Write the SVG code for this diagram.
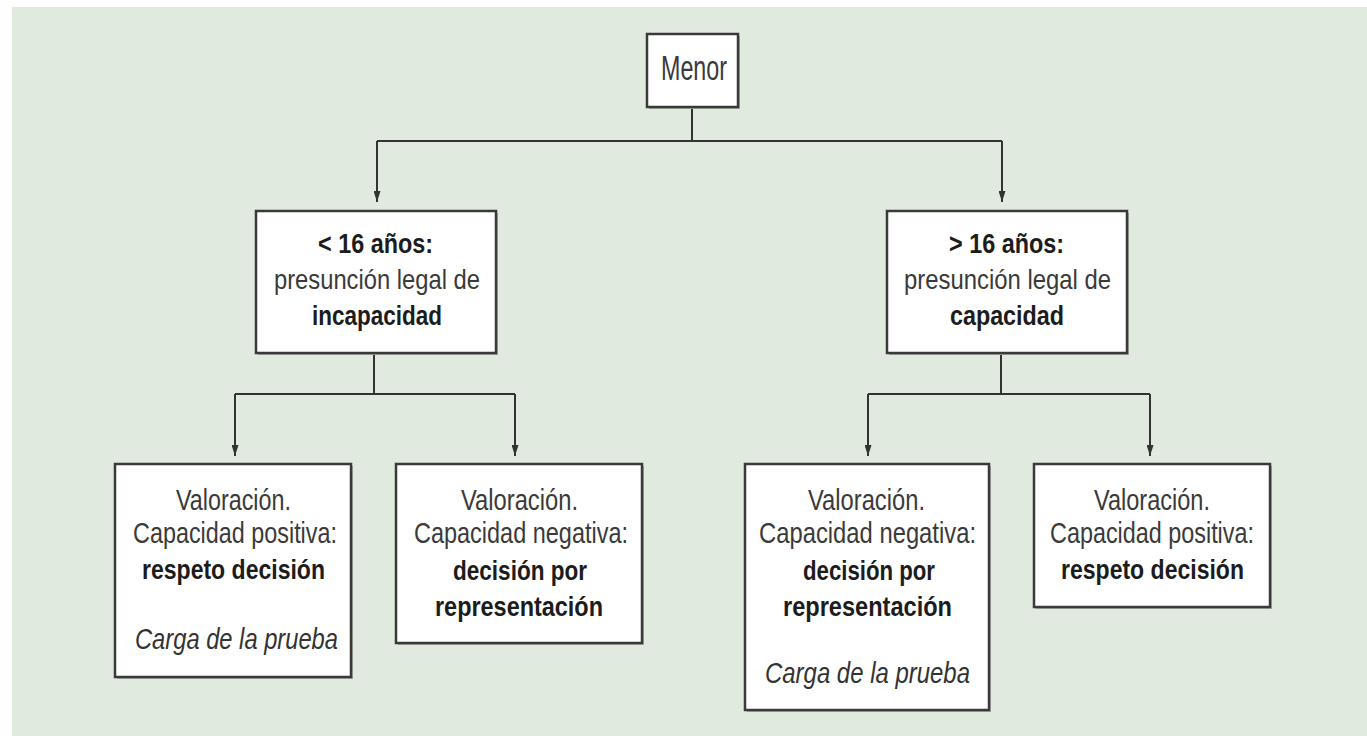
<svg xmlns="http://www.w3.org/2000/svg" width="1367" height="736" viewBox="0 0 1367 736">
  <style>
    .box { fill: #ffffff; stroke: #3a3a3a; stroke-width: 2.5; }
    .shadow { fill: #a8ada6; }
    .link { fill: none; stroke: #333333; stroke-width: 2; }
    .t { font-family: "Liberation Sans", Arial, sans-serif; fill: #3a3a3a; }
    .b { font-family: "Liberation Sans", Arial, sans-serif; font-weight: bold; fill: #1c1c1c; }
    .i { font-family: "Liberation Sans", Arial, sans-serif; font-style: italic; fill: #333333; }
  </style>
  <defs>
    <marker id="ah" markerUnits="userSpaceOnUse" markerWidth="11" markerHeight="7" refX="11" refY="3.5" orient="auto" viewBox="0 0 11 7">
      <path d="M0,0 L11,3.5 L0,7 Z" fill="#333333"/>
    </marker>
  </defs>

  <rect x="0" y="0" width="1367" height="736" fill="#ffffff"/>
  <rect x="12" y="7" width="1355" height="729" fill="#e1eadf"/>

  <g id="connectors">
    <path class="link" d="M692,107 V141"/>
    <path class="link" d="M377,141 H1002"/>
    <path class="link" d="M377,141 V202" marker-end="url(#ah)"/>
    <path class="link" d="M1002,141 V202" marker-end="url(#ah)"/>
    <path class="link" d="M374,353 V394"/>
    <path class="link" d="M235,394 H515"/>
    <path class="link" d="M235,394 V456" marker-end="url(#ah)"/>
    <path class="link" d="M515,394 V456" marker-end="url(#ah)"/>
    <path class="link" d="M1001,353 V394"/>
    <path class="link" d="M868,394 H1150"/>
    <path class="link" d="M868,394 V456" marker-end="url(#ah)"/>
    <path class="link" d="M1150,394 V456" marker-end="url(#ah)"/>
  </g>

  <g id="menor">
    <rect class="shadow" x="649" y="36" width="91" height="73"/>
    <rect class="box" x="647" y="34" width="91" height="73"/>
    <text class="t" x="661" y="80" font-size="35" textLength="66" lengthAdjust="spacingAndGlyphs">Menor</text>
  </g>

  <g id="menos16">
    <rect class="shadow" x="258" y="213" width="240" height="142"/>
    <rect class="box" x="256" y="211" width="240" height="142"/>
    <text class="b" x="318" y="253" font-size="27" textLength="115" lengthAdjust="spacingAndGlyphs">&lt; 16 años:</text>
    <text class="t" x="274" y="289" font-size="28" textLength="206" lengthAdjust="spacingAndGlyphs">presunción legal de</text>
    <text class="b" x="312" y="325" font-size="27" textLength="130" lengthAdjust="spacingAndGlyphs">incapacidad</text>
  </g>

  <g id="mas16">
    <rect class="shadow" x="889" y="213" width="240" height="142"/>
    <rect class="box" x="887" y="211" width="240" height="142"/>
    <text class="b" x="949" y="253" font-size="27" textLength="115" lengthAdjust="spacingAndGlyphs">&gt; 16 años:</text>
    <text class="t" x="904" y="289" font-size="28" textLength="207" lengthAdjust="spacingAndGlyphs">presunción legal de</text>
    <text class="b" x="950" y="325" font-size="27" textLength="114" lengthAdjust="spacingAndGlyphs">capacidad</text>
  </g>

  <g id="b1">
    <rect class="shadow" x="117" y="466" width="236" height="213"/>
    <rect class="box" x="115" y="464" width="236" height="213"/>
    <text class="t" x="176" y="510" font-size="30" textLength="115" lengthAdjust="spacingAndGlyphs">Valoración.</text>
    <text class="t" x="133" y="543" font-size="30" textLength="204" lengthAdjust="spacingAndGlyphs">Capacidad positiva:</text>
    <text class="b" x="142" y="579" font-size="28" textLength="183" lengthAdjust="spacingAndGlyphs">respeto decisión</text>
    <text class="i" x="135" y="649" font-size="29" textLength="203" lengthAdjust="spacingAndGlyphs">Carga de la prueba</text>
  </g>

  <g id="b2">
    <rect class="shadow" x="398" y="466" width="246" height="179"/>
    <rect class="box" x="396" y="464" width="246" height="179"/>
    <text class="t" x="461" y="510" font-size="30" textLength="117" lengthAdjust="spacingAndGlyphs">Valoración.</text>
    <text class="t" x="414" y="543" font-size="30" textLength="214" lengthAdjust="spacingAndGlyphs">Capacidad negativa:</text>
    <text class="b" x="453" y="580" font-size="28" textLength="134" lengthAdjust="spacingAndGlyphs">decisión por</text>
    <text class="b" x="435" y="616" font-size="28" textLength="168" lengthAdjust="spacingAndGlyphs">representación</text>
  </g>

  <g id="b3">
    <rect class="shadow" x="747" y="466" width="244" height="246"/>
    <rect class="box" x="745" y="464" width="244" height="246"/>
    <text class="t" x="808" y="510" font-size="30" textLength="117" lengthAdjust="spacingAndGlyphs">Valoración.</text>
    <text class="t" x="759" y="543" font-size="30" textLength="217" lengthAdjust="spacingAndGlyphs">Capacidad negativa:</text>
    <text class="b" x="803" y="580" font-size="28" textLength="132" lengthAdjust="spacingAndGlyphs">decisión por</text>
    <text class="b" x="783" y="616" font-size="28" textLength="169" lengthAdjust="spacingAndGlyphs">representación</text>
    <text class="i" x="765" y="683" font-size="29" textLength="205" lengthAdjust="spacingAndGlyphs">Carga de la prueba</text>
  </g>

  <g id="b4">
    <rect class="shadow" x="1036" y="466" width="236" height="143"/>
    <rect class="box" x="1034" y="464" width="236" height="143"/>
    <text class="t" x="1094" y="510" font-size="30" textLength="116" lengthAdjust="spacingAndGlyphs">Valoración.</text>
    <text class="t" x="1050" y="543" font-size="30" textLength="204" lengthAdjust="spacingAndGlyphs">Capacidad positiva:</text>
    <text class="b" x="1061" y="579" font-size="28" textLength="183" lengthAdjust="spacingAndGlyphs">respeto decisión</text>
  </g>
</svg>
